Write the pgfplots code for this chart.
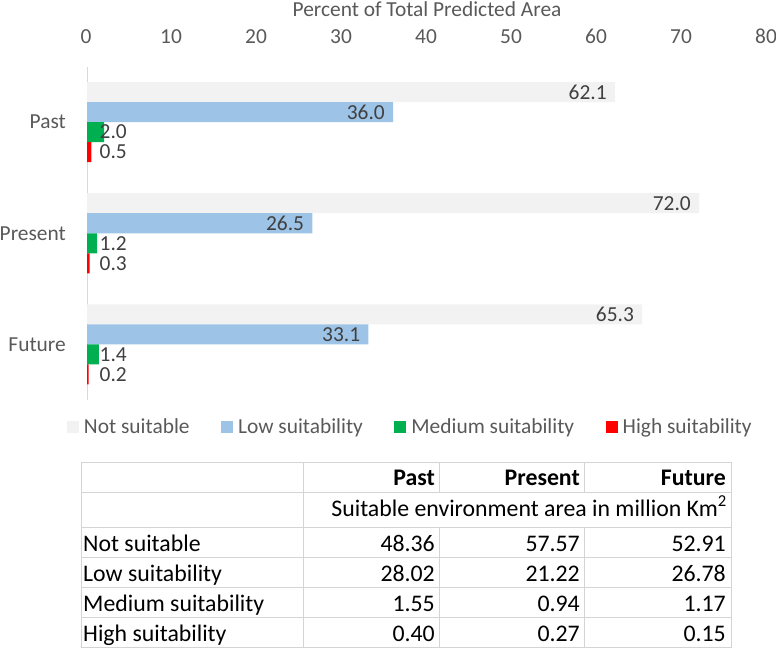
\documentclass[border=0pt]{standalone}
\usepackage{pgfplots}
\pgfplotsset{compat=1.18}
\usepackage{fontspec}
\setmainfont{Carlito}
\definecolor{nsgray}{RGB}{242,242,242}
\definecolor{lowblue}{RGB}{157,195,230}
\definecolor{medgreen}{RGB}{0,176,80}
\definecolor{highred}{RGB}{255,0,0}
\definecolor{txtgray}{RGB}{89,89,89}
\definecolor{lblgray}{RGB}{64,64,64}
\definecolor{linegray}{RGB}{212,212,212}
\definecolor{axgray}{RGB}{217,217,217}
\newcommand{\tabfont}{\fontsize{23.8}{28}\selectfont}
\begin{document}
\begin{tikzpicture}[font=\fontsize{21.4}{25.7}\selectfont]
\useasboundingbox (0pt,0pt) rectangle (776pt,-648pt);
\begin{axis}[
  at={(87pt,-400pt)}, anchor=south west,
  scale only axis, width=680pt, height=333.5pt,
  xmin=0, xmax=80, ymin=-0.5, ymax=2.5,
  xtick={0,10,...,80}, ytick={0,1,2}, yticklabels={Future,Present,Past},
  xticklabel pos=upper,
  axis line style={draw=none},
  major tick length=0pt,
  tick style={draw=none},
  /pgf/number format/assume math mode=true,
  xticklabel style={inner sep=0pt, yshift=22.5pt, xshift=-1pt, text=txtgray, anchor=south},
  yticklabel style={inner sep=0pt, xshift=-21pt, text=txtgray, anchor=east},
  xlabel={Percent of Total Predicted Area},
  xlabel style={at={(axis description cs:0.5,1)}, anchor=center, yshift=57pt, text=txtgray, inner sep=0pt},
  extra x ticks={0}, extra x tick labels={},
  extra x tick style={grid=major, major grid style={axgray, line width=1pt}},
  bar width=0.18,
  legend columns=4,
  legend cell align=left,
  legend style={draw=none, fill=none, at={(axis description cs:0.474,-0.081)}, anchor=center,
    text=txtgray, nodes={inner sep=0pt},
    /tikz/every odd column/.append style={column sep=5pt},
    /tikz/every even column/.append style={column sep=31.5pt}},
  legend image code/.code={\draw[#1,draw=none] (0pt,-6pt) rectangle (12pt,6pt);},
]
\addplot[xbar, bar shift=0.27, fill=nsgray, draw=none] coordinates {(62.1,2) (72.0,1) (65.3,0)};
\addplot[xbar, bar shift=0.09, fill=lowblue, draw=none] coordinates {(36.0,2) (26.5,1) (33.1,0)};
\addplot[xbar, bar shift=-0.09, fill=medgreen, draw=none] coordinates {(2.0,2) (1.2,1) (1.4,0)};
\addplot[xbar, bar shift=-0.27, fill=highred, draw=none] coordinates {(0.5,2) (0.3,1) (0.2,0)};
\legend{Not suitable, Low suitability, Medium suitability, High suitability}
% value labels, inside end
\addplot[draw=none, forget plot, nodes near coords, point meta=explicit symbolic,
  every node near coord/.append style={anchor=east, inner sep=0pt, xshift=-8pt, text=lblgray}]
  coordinates {(62.1,2.27) [62.1] (72.0,1.27) [72.0] (65.3,0.27) [65.3]
               (36.0,2.09) [36.0] (26.5,1.09) [26.5] (33.1,0.09) [33.1]};
% small value labels
\addplot[draw=none, forget plot, nodes near coords, point meta=explicit symbolic,
  every node near coord/.append style={anchor=west, inner sep=0pt, xshift=12.5pt, text=lblgray}]
  coordinates {(0,1.91) [2.0] (0,0.91) [1.2] (0,-0.09) [1.4]
               (0,1.73) [0.5] (0,0.73) [0.3] (0,-0.27) [0.2]};
\end{axis}
\begin{scope}[x=1pt,y=-1pt]
\foreach \yy in {462,492,527,557,587,617,647.3}
  \draw[linegray, line width=1pt] (81,\yy) -- (731.5,\yy);
\draw[linegray, line width=1pt] (81,462) -- (81,647.3);
\draw[linegray, line width=1pt] (731.5,462) -- (731.5,647.3);
\draw[linegray, line width=1pt] (303,462) -- (303,647.3);
\draw[linegray, line width=1pt] (439.5,462) -- (439.5,492);
\draw[linegray, line width=1pt] (439.5,527) -- (439.5,647.3);
\draw[linegray, line width=1pt] (584,462) -- (584,492);
\draw[linegray, line width=1pt] (584,527) -- (584,647.3);
\begin{scope}[every node/.style={inner sep=0pt, font=\tabfont}]
\node[anchor=base east, font=\tabfont\bfseries] at (435,485) {Past};
\node[anchor=base east, font=\tabfont\bfseries] at (580,485) {Present};
\node[anchor=base east, font=\tabfont\bfseries] at (726,485) {Future};
\node[anchor=base east] at (727,516) {Suitable environment area in million Km\textsuperscript{2}};
\node[anchor=base west] at (83,551) {Not suitable};
\node[anchor=base west] at (83,581) {Low suitability};
\node[anchor=base west] at (83,611) {Medium suitability};
\node[anchor=base west] at (83,641) {High suitability};
\node[anchor=base east] at (435,551) {48.36};
\node[anchor=base east] at (580,551) {57.57};
\node[anchor=base east] at (726,551) {52.91};
\node[anchor=base east] at (435,581) {28.02};
\node[anchor=base east] at (580,581) {21.22};
\node[anchor=base east] at (726,581) {26.78};
\node[anchor=base east] at (435,611) {1.55};
\node[anchor=base east] at (580,611) {0.94};
\node[anchor=base east] at (726,611) {1.17};
\node[anchor=base east] at (435,641) {0.40};
\node[anchor=base east] at (580,641) {0.27};
\node[anchor=base east] at (726,641) {0.15};
\end{scope}
\end{scope}
\end{tikzpicture}
\end{document}
